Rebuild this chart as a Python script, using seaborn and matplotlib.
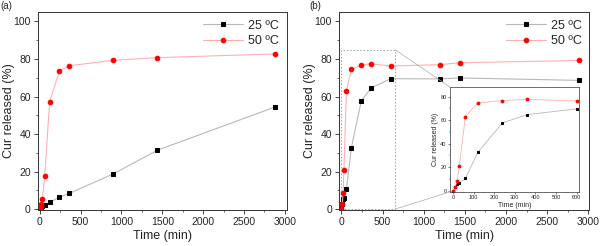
import numpy as np
import pandas as pd
from matplotlib import pyplot as plt
from matplotlib.patches import Rectangle, ConnectionPatch
from matplotlib.ticker import AutoMinorLocator
import seaborn as sns

sns.set_style("ticks")
plt.rcParams['font.family'] = ['Liberation Sans', 'DejaVu Sans']

# panel (a)
time_a = [0, 10, 20, 30, 60, 120, 240, 360, 900, 1440, 2880]
rel25_a = [0, 0.5, 1.0, 1.5, 2.3, 3.6, 6.4, 8.4, 18.8, 31.4, 54.4]
rel50_a = [0, 1.5, 3.0, 5.3, 17.5, 57.3, 73.6, 76.4, 79.3, 80.7, 82.7]

# panel (b)
time_b = [0, 10, 20, 30, 60, 120, 240, 360, 600, 1200, 1440, 2880]
rel25_b = [0, 3.0, 5.5, 6.2, 10.5, 32.6, 57.6, 64.6, 69.5, 69.4, 69.9, 68.6]
rel50_b = [0, 3.0, 8.5, 21.0, 63.0, 74.5, 76.6, 77.5, 76.2, 77.0, 78.0, 79.2]

labels = ["25 ºC", "50 ºC"]
zoom_box = (650, 85)   # region magnified in the inset (time, %)

df_a = pd.DataFrame({"time": time_a, "r25": rel25_a, "r50": rel50_a})
df_b = pd.DataFrame({"time": time_b, "r25": rel25_b, "r50": rel50_b})

styles = [("r25", "#b8b8b8", "black", "s"), ("r50", "#ffb0b0", "red", "o")]

fig = plt.figure(figsize=(6, 2.46), dpi=100)
ax_a = fig.add_axes([0.063, 0.146, 0.415, 0.805])
ax_b = fig.add_axes([0.565, 0.146, 0.417, 0.805])


def draw(ax, df, ms, lw, legend=True):
    for (col, lc, mc, mk), lab in zip(styles, labels):
        sns.lineplot(data=df, x="time", y=col, ax=ax, color=lc, lw=lw,
                     marker=mk, markersize=ms, markerfacecolor=mc,
                     markeredgecolor=mc, label=lab if legend else None)


for ax, df in [(ax_a, df_a), (ax_b, df_b)]:
    draw(ax, df, 3.3, 0.8)
    ax.set_ylim(-0.5, 105)
    ax.set_yticks([0, 20, 40, 60, 80, 100])
    ax.set_xticks([0, 500, 1000, 1500, 2000, 2500, 3000])
    ax.xaxis.set_minor_locator(AutoMinorLocator(2))
    ax.yaxis.set_minor_locator(AutoMinorLocator(2))
    ax.tick_params(labelsize=7.5, length=3, width=0.6, pad=2)
    ax.tick_params(which='minor', length=1.5, width=0.5)
    ax.set_xlabel("Time (min)", fontsize=9, labelpad=2)
    ax.set_ylabel("Cur released (%)", fontsize=9)
    ax.yaxis.set_label_coords(-0.09, 0.5)
    for s in ax.spines.values():
        s.set_linewidth(0.7)
        s.set_color("#333333")
    ax.legend(loc="upper right", frameon=False, fontsize=9, handlelength=3.2,
              borderaxespad=0.2, labelspacing=0.3, handletextpad=0.4)

ax_a.set_xlim(-25, 3025)
ax_b.set_xlim(-30, 3010)

fig.text(0.0, 0.995, "(a)", fontsize=7, va="top", ha="left")
fig.text(0.515, 0.995, "(b)", fontsize=7, va="top", ha="left")

# zoom rectangle + inset
rect = Rectangle((0, 0), zoom_box[0], zoom_box[1], fill=False, ls=(0, (2, 2)),
                 lw=0.6, ec="#999999")
ax_b.add_patch(rect)

ins = fig.add_axes([0.75, 0.22, 0.215, 0.426])
draw(ins, df_b[df_b["time"] <= 600], 2, 0.6, legend=False)
ins.set_xlim(-15, 612)
ins.set_ylim(-1, 88)
ins.set_xticks([0, 100, 200, 300, 400, 500, 600])
ins.set_yticks([0, 20, 40, 60, 80])
ins.xaxis.set_minor_locator(AutoMinorLocator(2))
ins.yaxis.set_minor_locator(AutoMinorLocator(2))
ins.tick_params(labelsize=4, length=1.5, width=0.4, pad=1)
ins.tick_params(which='minor', length=1, width=0.3)
ins.set_xlabel("Time (min)", fontsize=5, labelpad=1)
ins.set_ylabel("Cur released (%)", fontsize=5, labelpad=1)
for s in ins.spines.values():
    s.set_linewidth(0.5)
    s.set_color("#333333")

for yb, ya in [(zoom_box[1], 1), (0, 0)]:
    con = ConnectionPatch(xyA=(zoom_box[0], yb), coordsA=ax_b.transData,
                          xyB=(0, ya), coordsB=ins.transAxes,
                          color="#aaaaaa", lw=0.5)
    fig.add_artist(con)

fig.savefig("out.png", dpi=100)
